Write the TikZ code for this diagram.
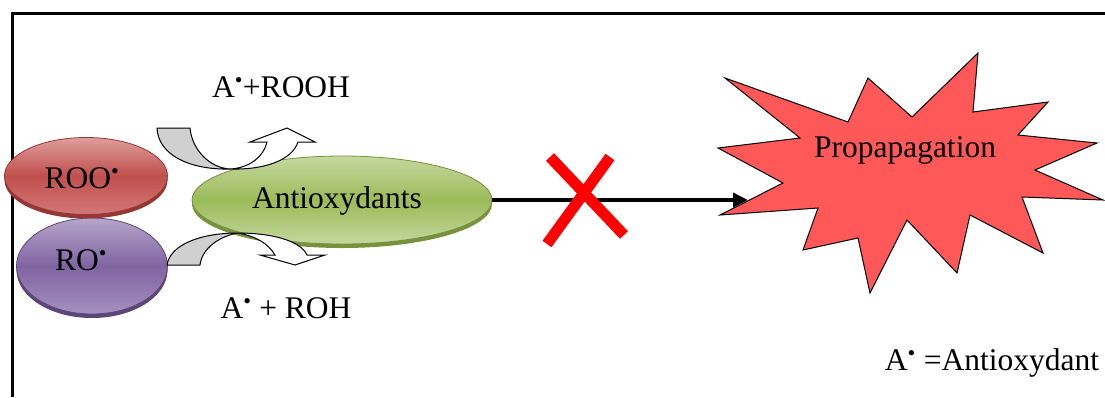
\documentclass[tikz,border=0pt]{standalone}
\usepackage{fontspec}
\setmainfont{Liberation Serif}
\usetikzlibrary{shapes.geometric,shadows,arrows.meta}
\definecolor{rootop}{RGB}{222,158,156}
\definecolor{roomid}{RGB}{192,80,77}
\definecolor{roobot}{RGB}{210,120,118}
\definecolor{roorim}{RGB}{150,55,52}
\definecolor{rotop}{RGB}{182,165,202}
\definecolor{romid}{RGB}{128,100,162}
\definecolor{robot}{RGB}{165,145,192}
\definecolor{rorim}{RGB}{92,70,120}
\definecolor{antitop}{RGB}{198,216,160}
\definecolor{antimid}{RGB}{155,187,89}
\definecolor{antibot}{RGB}{196,215,158}
\definecolor{antirim}{RGB}{118,146,60}
\definecolor{burst}{RGB}{255,88,88}
\definecolor{tailgray}{RGB}{208,208,208}
\newcommand{\rad}{\textsuperscript{\textbullet}}

\begin{document}
\begin{tikzpicture}[x=1pt,y=-1pt,
  every node/.style={font=\fontsize{31.5}{38}\selectfont},
  blob/.style={ellipse,inner sep=0pt,line width=0.8pt},
  word/.style={anchor=base,inner sep=0pt},
  tail/.style={draw,line width=1pt,fill=tailgray,line join=round},
  head/.style={draw,line width=1pt,fill=white}]
  \useasboundingbox (0,0) rectangle (1105,397);
  % frame
  \draw[line width=3pt] (12,397) -- (12,13) -- (1105,13);

  % radicals and antioxidant
  \node[blob,minimum width=151pt,minimum height=96pt,draw=rorim,
        top color=rotop,bottom color=robot,middle color=romid,
        drop shadow={shadow xshift=0pt,shadow yshift=-4pt,fill=rorim,opacity=1}] (ro) at (92,266) {};
  \node[blob,minimum width=163pt,minimum height=77pt,draw=roorim,
        top color=rootop,bottom color=roobot,middle color=roomid,
        drop shadow={shadow xshift=0pt,shadow yshift=-4pt,fill=roorim,opacity=1}] (roo) at (86,176) {};
  \node[blob,minimum width=300pt,minimum height=88pt,draw=antirim,
        top color=antitop,bottom color=antibot,middle color=antimid,
        drop shadow={shadow xshift=0pt,shadow yshift=-4pt,fill=antirim,opacity=1}] (antiox) at (342,200) {};
  \node[word] (rootxt) at (82,188) {ROO\rad};
  \node[word] (rotxt) at (81,270) {RO\rad};
  \node[word] (antitxt) at (337,208) {Antioxydants};

  % bent arrows
  \draw[tail] (157,128) -- (190,128) .. controls (192,150) and (210,168) .. (230,169)
              .. controls (190,170) and (158,155) .. (157,128) -- cycle;
  \draw[head] (230,169) .. controls (250,168) and (264,156) .. (267,142) -- (250,142) -- (287,128)
              -- (315,142) -- (298,142) .. controls (292,160) and (265,170) .. (230,169) -- cycle;
  \draw[tail] (167,265) .. controls (170,245) and (200,233) .. (238,233)
              .. controls (220,236) and (202,248) .. (200,265) -- cycle;
  \draw[head] (238,233) .. controls (270,233) and (300,240) .. (307,255) -- (325,255) -- (295,265)
              -- (260,255) -- (275,255) .. controls (268,243) and (255,236) .. (238,233) -- cycle;
  \node[word] (upper) at (281,97) {A\rad+ROOH};
  \node[word] (lower) at (286,318) {A\rad\ + ROH};

  % propagation burst
  \draw[fill=burst,line width=1pt] (725,78) -- (848,122) -- (868,78) -- (912,117) -- (978,53)
    -- (973,112) -- (1048,102) -- (1018,135) -- (1097,143) -- (1035,170) -- (1103,200)
    -- (1022,197) -- (1043,253) -- (970,215) -- (957,273) -- (907,220) -- (870,293)
    -- (858,238) -- (803,250) -- (818,208) -- (720,215) -- (783,183) -- (718,148) -- (800,138) -- cycle;
  \node[word] (proptxt) at (905,157) {Propapagation};
  \coordinate (propin) at (748,200);

  % blocked step
  \draw[line width=4pt,-{Triangle[length=15pt,width=14pt]}] (antiox.east) -- (propin);
  \draw[red,line width=11pt] (550,157) -- (624,235) (610,157) -- (547,244);

  \node[word] (legend) at (992,370) {A\rad\ =Antioxydant};
\end{tikzpicture}
\end{document}
